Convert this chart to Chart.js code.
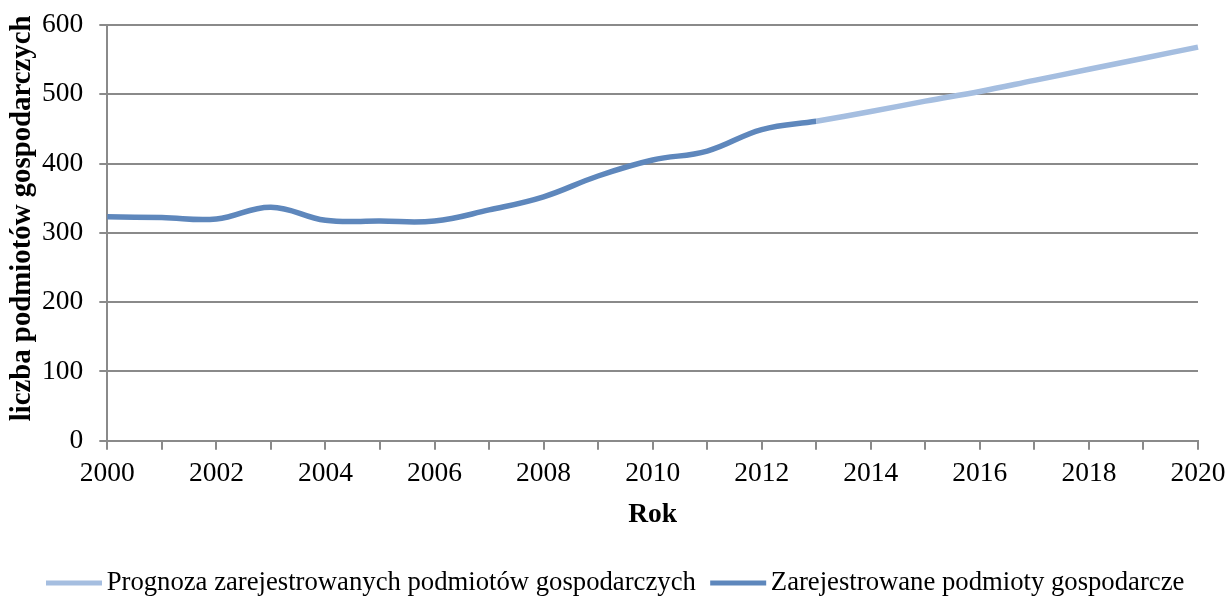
<!DOCTYPE html>
<html><head><meta charset="utf-8">
<script src="https://cdn.jsdelivr.net/npm/chart.js@4/dist/chart.umd.min.js"></script>
<style>html,body{margin:0;padding:0;background:#fff}#w{width:1227px;height:599px}</style>
</head><body><div id="w"><canvas id="c"></canvas></div>
<script>
const years = ['2000','2001','2002','2003','2004','2005','2006','2007','2008','2009','2010','2011','2012','2013','2014','2015','2016','2017','2018','2019','2020'];
const registered = [323,322,320,337,318,317,317,333,352,382,405,418,449,461,null,null,null,null,null,null,null];
const forecast = [null,null,null,null,null,null,null,null,null,null,null,null,null,461,475,490,504,520,536,552,568];
const yTicks = [0,100,200,300,400,500,600];
const F = "'Liberation Serif','Times New Roman',serif";
const C_FORE = '#A5BEE0', C_REG = '#5E87BC';
Chart.defaults.font.family = F;
Chart.defaults.color = '#000';
function legendLine(color) {
  const cv = document.createElement('canvas');
  cv.width = 70; cv.height = 6;
  const g = cv.getContext('2d');
  g.fillStyle = color; g.fillRect(13, 0.5, 56, 5);
  return cv;
}
new Chart(document.getElementById('c'), {
  type: 'line',
  data: { labels: years, datasets: [
    { label: 'Prognoza zarejestrowanych podmiotów gospodarczych', data: forecast, borderColor: C_FORE, backgroundColor: C_FORE, borderWidth: 5.5, pointRadius: 0, tension: 0.4, pointStyle: legendLine(C_FORE) },
    { label: 'Zarejestrowane podmioty gospodarcze', data: registered, borderColor: C_REG, backgroundColor: C_REG, borderWidth: 5.5, pointRadius: 0, tension: 0.4, pointStyle: legendLine(C_REG) }
  ]},
  options: {
    responsive: true, maintainAspectRatio: false, animation: false,
    layout: { padding: { left: 0, right: 0, top: 0, bottom: -7.35 } },
    plugins: {
      legend: { position: 'bottom', labels: { usePointStyle: true, pointStyleWidth: 50.65, padding: 11, font: { size: 26.7, family: F } } },
      tooltip: { enabled: false }
    },
    scales: {
      x: {
        offset: false,
        grid: { drawOnChartArea: false, drawTicks: true, tickLength: 9, color: '#8a8a8a', lineWidth: 2 },
        border: { color: '#8a8a8a', width: 2 },
        ticks: { autoSkip: false, maxRotation: 0, padding: 1.5, font: { size: 27.5, family: F, lineHeight: 1.636 }, callback: function(v, i) { return i % 2 === 0 ? years[i] : ''; } },
        title: { display: true, text: 'Rok', font: { size: 27.5, weight: 'bold', family: F }, padding: { top: 1, bottom: 27 } }
      },
      y: {
        min: 0, max: 600,
        afterBuildTicks: (s) => { s.ticks = yTicks.map(v => ({ value: v })); },
        grid: { color: '#8a8a8a', lineWidth: 2, tickLength: 8 },
        border: { color: '#8a8a8a', width: 2 },
        ticks: { padding: 16, font: { size: 27.5, family: F, lineHeight: 0.65 } },
        title: { display: true, text: '    liczba podmiotów gospodarczych', font: { size: 28.8, weight: 'bold', family: F }, padding: { top: 5, bottom: -13.5 } }
      }
    }
  }
});
</script></body></html>
